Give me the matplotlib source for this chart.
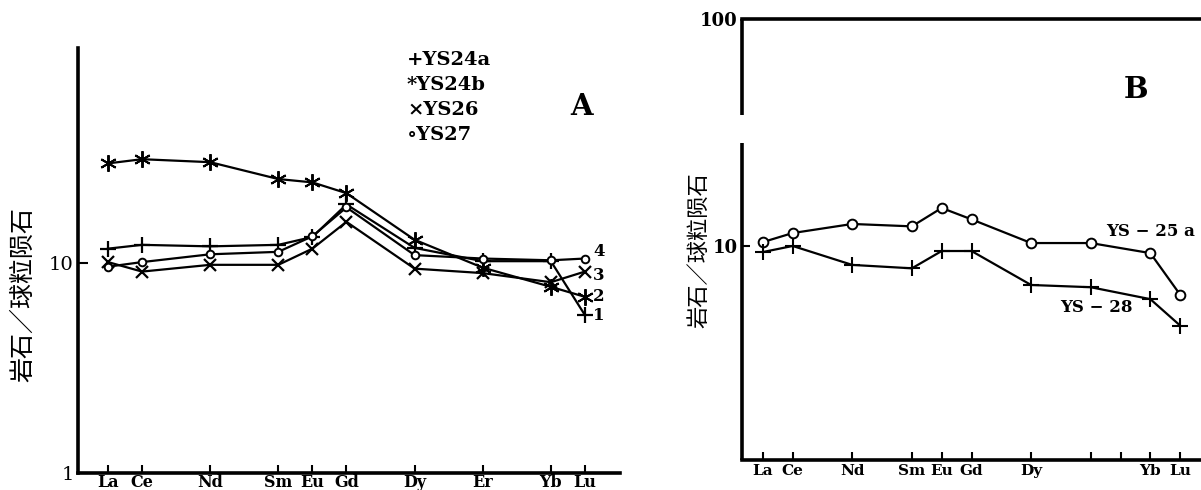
import numpy as np
import matplotlib.pyplot as plt
from matplotlib.ticker import FixedLocator, NullLocator

plt.rcParams['font.family'] = ['DejaVu Serif']

# REE positions (atomic number) and labels
ree_a = ['La', 'Ce', 'Nd', 'Sm', 'Eu', 'Gd', 'Dy', 'Er', 'Yb', 'Lu']
z_a = [57, 58, 60, 62, 63, 64, 66, 68, 70, 71]

ys24a = [11.7, 12.2, 12.0, 12.2, 13.3, 19.0, 11.8, 10.2, 10.2, 5.65]
ys24b = [29.8, 31.2, 30.2, 25.1, 24.2, 21.5, 12.9, 9.5, 7.7, 6.9]
ys26 = [10.1, 9.1, 9.8, 9.8, 11.7, 15.7, 9.4, 8.95, 8.1, 9.1]
ys27 = [9.6, 10.1, 11.0, 11.3, 13.4, 18.4, 10.9, 10.5, 10.3, 10.5]

ree_b = ['La', 'Ce', 'Nd', 'Sm', 'Eu', 'Gd', 'Dy', 'Er', 'Yb', 'Lu']
z_b = [57, 58, 60, 62, 63, 64, 66, 68, 70, 71]
ys25a = [10.4, 11.4, 12.5, 12.2, 14.7, 13.1, 10.3, 10.3, 9.3, 6.1]
ys28 = [9.4, 10.0, 8.25, 7.97, 9.5, 9.5, 6.73, 6.58, 5.83, 4.46]

tick_z_b = [57, 58, 60, 62, 63, 64, 66, 68, 69, 70, 71]
tick_lab_b = ['La', 'Ce', 'Nd', 'Sm', 'Eu', 'Gd', 'Dy', '', '', 'Yb', 'Lu']

W, H = 1201, 490
fig = plt.figure(figsize=(W / 100, H / 100), dpi=100)

def px_axes(x0, y0, x1, y1):
    return fig.add_axes([x0 / W, 1 - y1 / H, (x1 - x0) / W, (y1 - y0) / H])

cjk = ['Noto Sans CJK SC', 'DejaVu Sans']
asterisk = (6, 2, 0)

# ---------- panel A ----------
ax = px_axes(78, 48, 620, 473)
ax.set_yscale('log')
ax.set_ylim(1, 105.6)
ax.set_xlim(56.12, 72.03)
kw = dict(color='black', lw=1.6)
ax.plot(z_a, ys24a, marker='+', ms=11, mew=1.6, **kw)
ax.plot(z_a, ys24b, marker=asterisk, ms=12, mew=1.4, **kw)
ax.plot(z_a, ys26, marker='x', ms=9, mew=1.6, **kw)
ax.plot(z_a, ys27, marker='o', ms=5.5, mfc='white', mew=1.4, **kw)
for vals, lab, dy in [(ys27, '4', 5), (ys26, '3', -3), (ys24b, '2', 0), (ys24a, '1', 0)]:
    ax.annotate(lab, (z_a[-1], vals[-1]), xytext=(6, dy), textcoords='offset points',
                ha='left', va='center', fontsize=12, fontweight='bold')
for s in ['top', 'right']:
    ax.spines[s].set_visible(False)
for s in ['left', 'bottom']:
    ax.spines[s].set_linewidth(2.6)
ax.xaxis.set_major_locator(FixedLocator(z_a))
ax.set_xticklabels(ree_a, fontsize=11.5, fontweight='bold')
ax.xaxis.set_minor_locator(NullLocator())
ax.yaxis.set_major_locator(FixedLocator([1, 10]))
ax.yaxis.set_minor_locator(NullLocator())
ax.set_yticklabels(['1', '10'], fontsize=14)
ax.tick_params(axis='x', direction='in', length=6, width=1.5, pad=1)
ax.tick_params(axis='y', direction='in', length=7, width=1.5, pad=3)
ax.set_ylabel('岩石／球粒陨石', family=cjk, fontsize=18)
ax.yaxis.set_label_coords(-0.078, 0.42)

legend_items = ['+YS24a', '*YS24b', '×YS26', '∘YS27']
for i, t in enumerate(legend_items):
    fig.text(407 / W, 1 - (60 + i * 25) / H, t, fontsize=14, fontweight='bold',
             ha='left', va='center')
fig.text(582 / W, 1 - 106 / H, 'A', fontsize=21, fontweight='bold', ha='center', va='center')

# ---------- panel B ----------
bx = px_axes(742, 19, 1201, 460)
bx.set_yscale('log')
bx.set_ylim(1.14, 100)
bx.set_xlim(56.3, 71.7)
bx.plot(z_b, ys25a, marker='o', ms=7, mfc='white', mew=1.4, **kw)
bx.plot(z_b, ys28, marker='+', ms=11, mew=1.5, **kw)
bx.text(70.0, 11.6, 'YS − 25 a', fontsize=12, fontweight='bold', ha='center', va='center')
bx.text(68.2, 5.33, 'YS − 28', fontsize=12, fontweight='bold', ha='center', va='center')
bx.spines['right'].set_visible(False)
bx.spines['left'].set_visible(False)
for s in ['top', 'bottom']:
    bx.spines[s].set_linewidth(2.6)
# broken left axis line
gap_hi = 1 - (115 - 19) / (460 - 19)
gap_lo = 1 - (143 - 19) / (460 - 19)
bx.plot([0, 0], [gap_hi, 1], transform=bx.transAxes, color='black', lw=2.6,
        clip_on=False, solid_capstyle='butt')
bx.plot([0, 0], [0, gap_lo], transform=bx.transAxes, color='black', lw=2.6,
        clip_on=False, solid_capstyle='butt')
bx.xaxis.set_major_locator(FixedLocator(tick_z_b))
bx.set_xticklabels(tick_lab_b, fontsize=11, fontweight='bold')
bx.xaxis.set_minor_locator(NullLocator())
bx.yaxis.set_major_locator(FixedLocator([10, 100]))
bx.yaxis.set_minor_locator(NullLocator())
bx.set_yticklabels(['10', '100'], fontsize=13, fontweight='bold')
bx.tick_params(axis='x', direction='in', length=6, width=1.5, pad=3)
bx.tick_params(axis='y', direction='in', length=6, width=1.5, pad=3)
bx.set_ylabel('岩石／球粒陨石', family=cjk, fontsize=16)
bx.yaxis.set_label_coords(-0.07, 0.475)
fig.text(1136 / W, 1 - 90 / H, 'B', fontsize=21, fontweight='bold', ha='center', va='center')

fig.savefig('out.png', dpi=100)
